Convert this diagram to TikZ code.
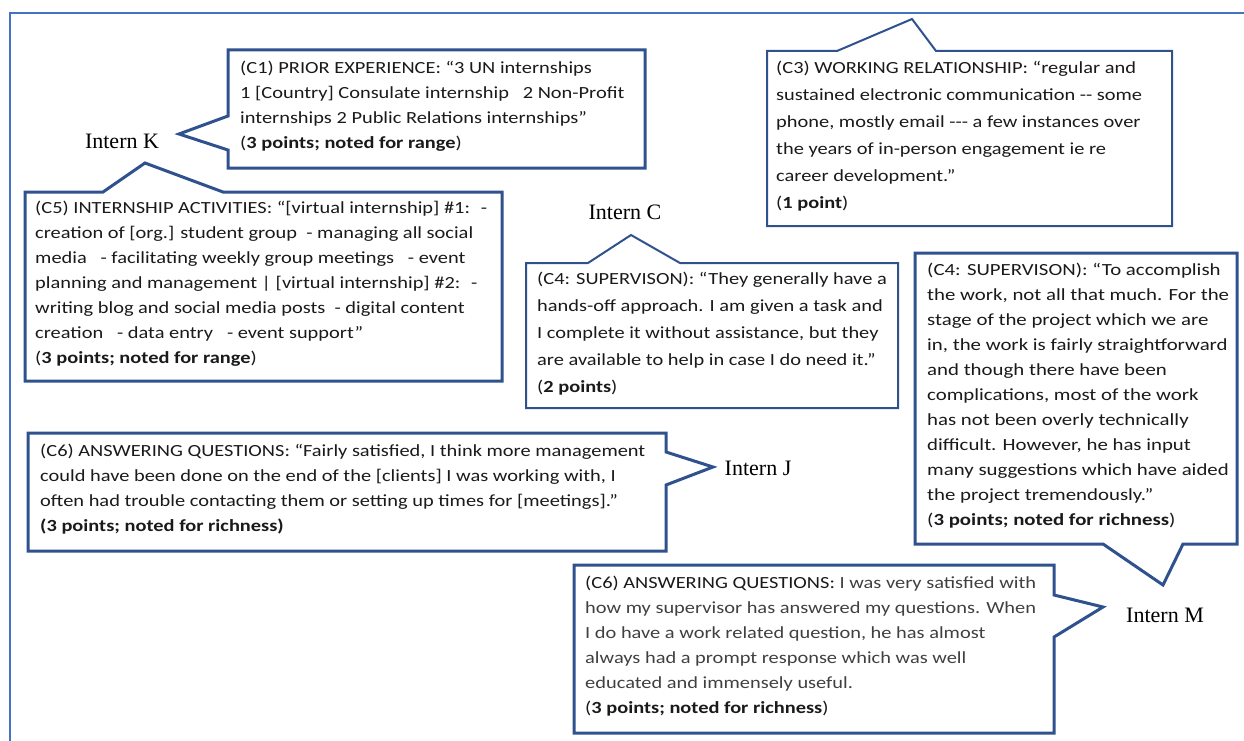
\documentclass[tikz,border=0pt]{standalone}
\usepackage{fontspec}
\setmainfont{Carlito}[FakeStretch=1.2]
\newfontfamily\widerface{Carlito}[FakeStretch=1.225]
\newfontfamily\serifface{Liberation Serif}
\definecolor{framecol}{HTML}{4472C4}
\definecolor{calloutcol}{HTML}{2F528F}
\definecolor{textdark}{HTML}{1A1A1A}
\definecolor{textgrey}{HTML}{404040}
\newcommand\hy{\mbox{-}}
\newcommand\gr[1]{\textcolor{textgrey}{#1}}
\newcommand\cbody{\fontsize{17}{25}\selectfont}
\newcommand\cwide{\fontsize{17}{27}\selectfont}
\newcommand\ilabel{\serifface\fontsize{22}{24}\selectfont}
\tikzset{
  callout/.style={draw=calloutcol, line width=3, fill=white, line join=miter},
  thincallout/.style={callout, line width=2},
  body/.style={anchor=north west, inner sep=0, align=left, text=textdark, font=\cbody},
  intern/.style={font=\ilabel, inner sep=0, text=black},
  framing/.style={draw=framecol, line width=2}
}
\begin{document}
\begin{tikzpicture}[x=1pt,y=-1pt]
\useasboundingbox (0,0) rectangle (1244,741);
\fill[white] (0,0) rectangle (1244,741);
% outer frame (top and left sides only)
\draw[framing] (10,741) -- (10,13) -- (1244,13);

% intern labels
\node[intern] (K) at (122,141) {Intern K};
\node[intern] (C) at (625,212) {Intern C};
\node[intern] (J) at (758,468) {Intern J};
\node[intern] (M) at (1165,615) {Intern M};

% C1 callout, pointing left to Intern K
\draw[callout] (228,50) -- (645,50) -- (645,168) -- (228,168) -- (228,150)
  -- (179,134) -- (228,116) -- cycle;
\node[body] (c1) at (240,60.5) {(C1) PRIOR EXPERIENCE: “3 UN internships\\
1 [Country] Consulate internship \ \ 2 Non-Profit\\
internships 2 Public Relations internships”\\
(\textbf{3 points; noted for range})};

% C5 callout, pointing up to Intern K
\draw[callout] (25,192) -- (103,192) -- (145,163) -- (223,192) -- (502,192)
  -- (502,381) -- (25,381) -- cycle;
\node[body] (c5) at (35,200.5) {(C5) INTERNSHIP ACTIVITIES: “[virtual internship] \#1: \ \hy\\
creation of [org.] student group \ \hy{} managing all social\\
media \ \ \hy{} facilitating weekly group meetings \ \ \hy{} event\\
planning and management | [virtual internship] \#2: \ \hy\\
writing blog and social media posts \ \hy{} digital content\\
creation \ \ \hy{} data entry \ \ \hy{} event support”\\
(\textbf{3 points; noted for range})};

% C3 callout, pointer up
\draw[thincallout] (767,51) -- (837,51) -- (912,19) -- (936,51) -- (1172,51)
  -- (1172,226) -- (767,226) -- cycle;
\node[body, font=\cwide] (c3) at (776,60.5) {(C3) WORKING RELATIONSHIP: “regular and\\
sustained electronic communication \hy\hy{} some\\
phone, mostly email \hy\hy\hy{} a few instances over\\
the years of in-person engagement ie re\\
career development.”\\
(\textbf{1 point})};

% C4 callout, pointing up to Intern C
\draw[thincallout] (526,263) -- (588,263) -- (631,235) -- (680,263) -- (898,263)
  -- (898,408) -- (526,408) -- cycle;
\node[body, font=\cwide] (c4c) at (537,271.5) {(C4: SUPERVISON): “They generally have a\\
hands-off approach. I am given a task and\\
I complete it without assistance, but they\\
are available to help in case I do need it.”\\
(\textbf{2 points})};

% C4 callout, pointing down to Intern M
\draw[callout] (915,253) -- (1237,253) -- (1237,544) -- (1183,544) -- (1163,585)
  -- (1103,544) -- (915,544) -- cycle;
\node[body, font=\widerface\cbody] (c4m) at (927,262.5) {(C4: SUPERVISON): “To accomplish\\
the work, not all that much. For the\\
stage of the project which we are\\
in, the work is fairly straightforward\\
and though there have been\\
complications, most of the work\\
has not been overly technically\\
difficult. However, he has input\\
many suggestions which have aided\\
the project tremendously.”\\
(\textbf{3 points; noted for richness})};

% C6 callout, pointing right to Intern J
\draw[callout] (28,433) -- (666,433) -- (666,452) -- (713,467) -- (666,485)
  -- (666,551) -- (28,551) -- cycle;
\node[body] (c6j) at (40,443.5) {(C6) ANSWERING QUESTIONS: “Fairly satisfied, I think more management\\
could have been done on the end of the [clients] I was working with, I\\
often had trouble contacting them or setting up times for [meetings].”\\
\textbf{(3 points; noted for richness)}};

% C6 callout, pointing right to Intern M
\draw[callout] (574,565) -- (1054,565) -- (1054,595) -- (1103,607) -- (1054,637)
  -- (1054,733) -- (574,733) -- cycle;
\node[body] (c6m) at (585,575.5) {(C6) ANSWERING QUESTIONS: \gr{I was very satisfied with}\\
\gr{how my supervisor has answered my questions. When}\\
\gr{I do have a work related question, he has almost}\\
\gr{always had a prompt response which was well}\\
\gr{educated and immensely useful.}\\
(\textbf{3 points; noted for richness})};
\end{tikzpicture}
\end{document}
